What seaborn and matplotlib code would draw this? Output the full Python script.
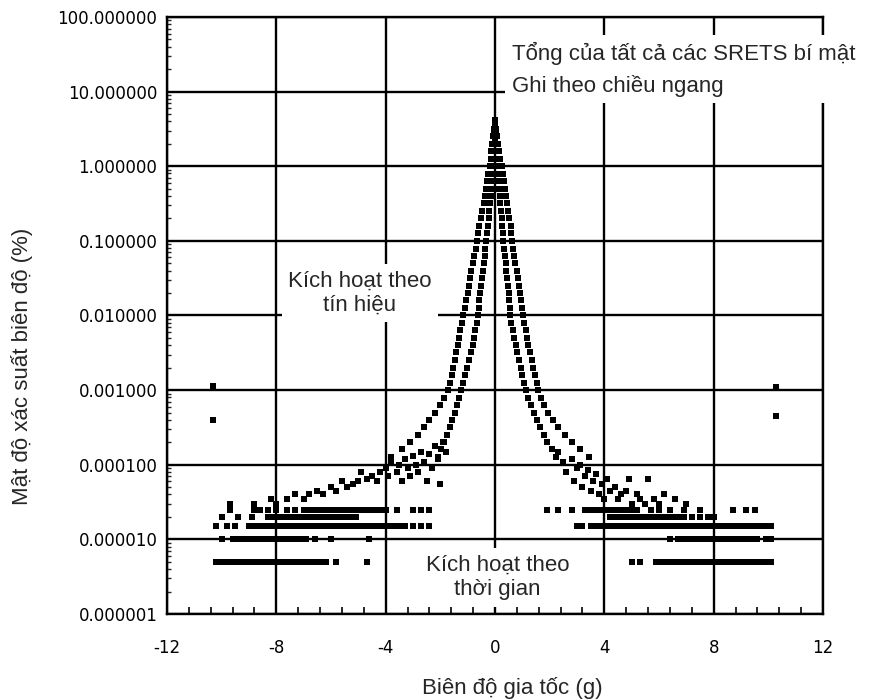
import numpy as np
import pandas as pd
import matplotlib
matplotlib.use("Agg")
import matplotlib.pyplot as plt
import matplotlib.ticker as mticker
import seaborn as sns

# probability levels (%) shared by the four envelopes of the central peak
peak_y = [3.16, 2.51, 2.0, 1.58, 1.26, 1.0, 0.79, 0.63, 0.50, 0.40,
          0.32, 0.25, 0.20, 0.16, 0.126, 0.10, 0.079, 0.063, 0.050, 0.040,
          0.032, 0.025, 0.020, 0.016, 0.0126, 0.010, 0.0079, 0.0063, 0.0050, 0.0040,
          0.0032, 0.0025, 0.0020, 0.0016, 0.00126, 0.0010, 0.00079, 0.00063, 0.00050, 0.00040,
          0.00032, 0.00025, 0.00020, 0.00016, 0.000126]

left_outer_x = [-0.02, -0.06, -0.10, -0.13, -0.16, -0.20, -0.24, -0.28, -0.32, -0.37,
                -0.42, -0.47, -0.52, -0.57, -0.61, -0.66, -0.71, -0.76, -0.81, -0.86,
                -0.90, -0.95, -1.00, -1.06, -1.11, -1.17, -1.22, -1.27, -1.32, -1.37,
                -1.42, -1.47, -1.53, -1.59, -1.65, -1.72, -1.85, -2.00, -2.20, -2.40,
                -2.60, -2.80, -3.10, -3.40, -3.80]
left_inner_x = [-0.01, -0.02, -0.03, -0.05, -0.06, -0.08, -0.10, -0.12, -0.14, -0.16,
                -0.19, -0.21, -0.23, -0.26, -0.29, -0.32, -0.35, -0.38, -0.41, -0.44,
                -0.48, -0.51, -0.54, -0.57, -0.60, -0.63, -0.67, -0.72, -0.77, -0.82,
                -0.88, -0.94, -1.01, -1.08, -1.16, -1.24, -1.32, -1.40, -1.48, -1.57,
                -1.66, -1.75, -1.85, -1.96, -2.10]
right_inner_x = [0.01, 0.03, 0.04, 0.06, 0.08, 0.10, 0.12, 0.14, 0.16, 0.18,
                 0.20, 0.22, 0.24, 0.26, 0.28, 0.30, 0.33, 0.36, 0.39, 0.42,
                 0.45, 0.47, 0.50, 0.52, 0.54, 0.56, 0.60, 0.65, 0.70, 0.76,
                 0.82, 0.88, 0.94, 1.00, 1.07, 1.13, 1.22, 1.32, 1.42, 1.53,
                 1.65, 1.78, 1.92, 2.08, 2.25]
right_outer_x = [0.03, 0.08, 0.12, 0.16, 0.20, 0.25, 0.29, 0.33, 0.37, 0.41,
                 0.45, 0.49, 0.53, 0.57, 0.60, 0.63, 0.67, 0.71, 0.75, 0.79,
                 0.83, 0.87, 0.90, 0.94, 0.98, 1.02, 1.07, 1.12, 1.17, 1.22,
                 1.28, 1.34, 1.40, 1.46, 1.52, 1.58, 1.68, 1.80, 1.95, 2.12,
                 2.32, 2.55, 2.80, 3.10, 3.45]

center_x = [0.0, 0.0, 0.02, -0.02, 0.0]
center_y = [4.2, 3.6, 2.8, 2.8, 2.2]

# scattered tail points above the quantised bands
fan_left_x = [-9.7, -8.8, -8.2, -8.0, -7.6, -7.3, -7.0, -6.8, -6.5, -6.3,
              -6.0, -5.8, -5.6, -5.4, -5.2, -5.0, -4.9, -4.7, -4.5, -4.3,
              -4.2, -4.0, -3.9, -3.8, -3.6, -3.5, -3.4, -3.3, -3.2, -3.1,
              -3.0, -2.9, -2.8, -2.7, -2.6, -2.5, -2.4, -2.3, -2.2, -2.1,
              -2.0, -1.9, -1.8]
fan_left_y = [3e-5, 3e-5, 3.5e-5, 3e-5, 3.5e-5, 4e-5, 3.5e-5, 4e-5, 4.5e-5, 4e-5,
              5e-5, 4.5e-5, 6e-5, 5e-5, 5.5e-5, 6e-5, 8e-5, 6.5e-5, 7e-5, 6e-5,
              8e-5, 9e-5, 7e-5, 1.1e-4, 8e-5, 1e-4, 6e-5, 1.2e-4, 9e-5, 7e-5,
              1.3e-4, 1e-4, 8e-5, 1.5e-4, 1.1e-4, 6e-5, 1.4e-4, 9e-5, 1.8e-4, 1.2e-4,
              5.5e-5, 2e-4, 1.5e-4]
fan_right_x = [2.3, 2.5, 2.6, 2.8, 2.9, 3.0, 3.1, 3.2, 3.3, 3.4,
               3.5, 3.6, 3.7, 3.8, 3.9, 4.0, 4.1, 4.2, 4.4, 4.5,
               4.6, 4.8, 4.9, 5.0, 5.2, 5.3, 5.5, 5.6, 5.8, 6.0,
               6.2, 6.6, 7.0]
fan_right_y = [1.5e-4, 1.1e-4, 8e-5, 1.2e-4, 6e-5, 9e-5, 1e-4, 5e-5, 7e-5, 8.5e-5,
               4.5e-5, 6e-5, 7.5e-5, 4e-5, 5.5e-5, 3.5e-5, 6.5e-5, 4.5e-5, 5e-5, 3.5e-5,
               4e-5, 4.5e-5, 6.5e-5, 3e-5, 4e-5, 3.5e-5, 3e-5, 6.5e-5, 3.5e-5, 3e-5,
               4e-5, 3.5e-5, 3e-5]

# quantised low-probability rows
band_levels = [5e-6, 1e-5, 1.5e-5, 2e-5, 2.5e-5]
band_left_x = [
    [-10.2, -10.1, -10.0, -9.9, -9.8, -9.7, -9.6, -9.5, -9.4, -9.3, -9.2, -9.1, -9.0,
     -8.9, -8.8, -8.7, -8.6, -8.5, -8.4, -8.3, -8.2, -8.1, -8.0, -7.9, -7.8, -7.7,
     -7.6, -7.4, -7.3, -7.1, -7.0, -6.8, -6.6, -6.4, -6.2, -5.8, -4.7],
    [-10.0, -9.6, -9.5, -9.4, -9.2, -9.1, -8.9, -8.7, -8.6, -8.5, -8.3, -8.2, -8.0,
     -7.9, -7.8, -7.6, -7.5, -7.3, -7.1, -6.9, -6.6, -6.0, -4.6],
    [-10.2, -9.8, -9.5, -9.0, -8.9, -8.7, -8.5, -8.4, -8.2, -8.1, -7.9, -7.8, -7.6,
     -7.5, -7.3, -7.2, -7.0, -6.9, -6.7, -6.6, -6.4, -6.3, -6.1, -6.0, -5.8, -5.7,
     -5.5, -5.4, -5.2, -5.0, -4.9, -4.7, -4.6, -4.4, -4.3, -4.1, -3.9, -3.7, -3.5,
     -3.3, -3.0, -2.7, -2.4],
    [-10.0, -9.4, -8.9, -8.3, -8.2, -8.0, -7.9, -7.7, -7.6, -7.4, -7.3, -7.1, -7.0,
     -6.8, -6.7, -6.5, -6.3, -6.1, -5.9, -5.7, -5.5, -5.3, -5.1],
    [-9.7, -8.8, -8.6, -8.3, -8.0, -7.6, -7.3, -7.0, -6.8, -6.6, -6.4, -6.2, -6.0,
     -5.8, -5.6, -5.4, -5.2, -5.0, -4.8, -4.6, -4.4, -4.2, -4.0, -3.6, -3.0, -2.7, -2.4],
]
band_right_x = [
    [5.0, 5.3, 5.9, 6.0, 6.1, 6.3, 6.5, 6.7, 6.8, 6.9, 7.0, 7.1, 7.2, 7.3, 7.4, 7.5,
     7.6, 7.7, 7.8, 7.9, 8.0, 8.1, 8.2, 8.3, 8.4, 8.5, 8.6, 8.7, 8.8, 8.9, 9.0, 9.1,
     9.2, 9.3, 9.4, 9.5, 9.6, 9.7, 9.8, 10.0, 10.1],
    [6.4, 6.7, 6.9, 7.1, 7.3, 7.5, 7.6, 7.8, 7.9, 8.1, 8.2, 8.4, 8.6, 8.7, 8.9, 9.1,
     9.3, 9.5, 9.6, 9.9, 10.1],
    [3.0, 3.2, 3.5, 3.6, 3.7, 3.8, 3.9, 4.0, 4.1, 4.2, 4.3, 4.4, 4.5, 4.6, 4.7, 4.8,
     4.9, 5.0, 5.1, 5.3, 5.5, 5.6, 5.7, 5.8, 5.9, 6.0, 6.1, 6.2, 6.3, 6.4, 6.5, 6.6,
     6.7, 6.8, 6.9, 7.0, 7.1, 7.2, 7.3, 7.4, 7.5, 7.6, 7.7, 7.8, 7.9, 8.0, 8.1, 8.2,
     8.3, 8.4, 8.6, 8.7, 8.8, 8.9, 9.0, 9.1, 9.2, 9.3, 9.4, 9.5, 9.6, 9.7, 9.9, 10.1],
    [4.2, 4.4, 4.6, 4.8, 5.0, 5.2, 5.3, 5.5, 5.7, 5.9, 6.1, 6.3, 6.5, 6.7, 6.9, 7.2,
     7.5, 7.8, 8.0],
    [1.9, 2.3, 2.8, 3.3, 3.4, 3.5, 3.6, 3.7, 3.8, 3.9, 4.0, 4.1, 4.2, 4.3, 4.4, 4.6,
     4.8, 5.0, 5.2, 5.7, 6.0, 6.4, 6.9, 7.5, 8.7, 9.2, 9.5],
]

outlier_x = [-10.3, -10.3, 10.3, 10.3]
outlier_y = [1.15e-3, 4e-4, 1.1e-3, 4.5e-4]

xs, ys = [], []
for curve in (left_outer_x, left_inner_x, right_inner_x, right_outer_x):
    xs += curve
    ys += peak_y
xs += center_x + fan_left_x + fan_right_x + outlier_x
ys += center_y + fan_left_y + fan_right_y + outlier_y
for level, bl, br in zip(band_levels, band_left_x, band_right_x):
    xs += bl + br
    ys += [level] * (len(bl) + len(br))
df = pd.DataFrame({"x": xs, "y": ys})

sns.set_style("white")
plt.rcParams["font.family"] = ["DejaVu Sans"]
plt.rcParams["axes.unicode_minus"] = False
label_font = ["Liberation Sans", "DejaVu Sans"]

fig = plt.figure(figsize=(8.74, 7.0), dpi=100)
ax = fig.add_axes([0.1911, 0.1229, 0.7505, 0.8528])

sns.scatterplot(data=df, x="x", y="y", ax=ax, color="black", marker="s",
                s=13, linewidth=0, legend=False, zorder=2)

ax.set_yscale("log")
ax.set_xlim(-12, 12)
ax.set_ylim(1e-6, 100)
ax.set_xticks([-12, -8, -4, 0, 4, 8, 12])
ax.xaxis.set_minor_locator(mticker.MultipleLocator(0.8))
ax.yaxis.set_major_locator(mticker.LogLocator(base=10, numticks=20))
ax.yaxis.set_minor_locator(mticker.LogLocator(base=10, subs=np.arange(2, 10) * 1.0, numticks=20))
ax.yaxis.set_major_formatter(mticker.FuncFormatter(lambda v, p: f"{v:.6f}"))
ax.yaxis.set_minor_formatter(mticker.NullFormatter())
ax.set_xlabel("")
ax.set_ylabel("")

ax.grid(True, which="major", color="black", lw=1.7)
ax.set_axisbelow(True)
for sp in ax.spines.values():
    sp.set_visible(True)
    sp.set_color("black")
    sp.set_linewidth(1.7)

ax.tick_params(axis="x", which="major", direction="inout", length=10, width=1.6,
               labelsize=12, pad=13, colors="black")
ax.tick_params(axis="x", which="minor", direction="in", length=5, width=1.4, bottom=True)
ax.tick_params(axis="y", which="major", direction="out", length=6, width=1.6,
               labelsize=12, pad=1, colors="black")
ax.tick_params(axis="y", which="minor", direction="in", length=3, width=1.0, left=True)

box = dict(boxstyle="square,pad=0.3", facecolor="white", edgecolor="none")
ax.text(0.62, 20, "Tổng của tất cả các SRETS bí mật\nGhi theo chiều ngang",
        ha="left", va="center", fontsize=16, family=label_font,
        linespacing=1.6, bbox=box, zorder=5, clip_on=False)
ax.text(-4.94, 0.02, "Kích hoạt theo\ntín hiệu", ha="center", va="center",
        fontsize=16, family=label_font, linespacing=1.2, bbox=box, zorder=5)
ax.text(0.1, 3.1e-6, "Kích hoạt theo\nthời gian", ha="center", va="center",
        fontsize=16, family=label_font, linespacing=1.2, bbox=box, zorder=5)

fig.text(0.586, 0.017, "Biên độ gia tốc (g)", ha="center", va="center",
         fontsize=16, family=label_font)
fig.text(0.025, 0.476, "Mật độ xác suất biên độ (%)", ha="center", va="center",
         rotation=90, fontsize=16, family=label_font)

fig.savefig("out.png", dpi=100)
